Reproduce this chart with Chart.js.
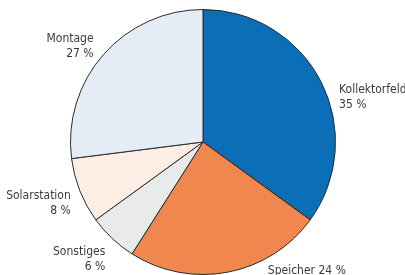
<!DOCTYPE html>
<html>
<head>
<meta charset="utf-8">
<script src="https://cdn.jsdelivr.net/npm/chart.js@4"></script>
<style>
  html, body { margin: 0; padding: 0; background: #fff; overflow: hidden; }
  #wrap { width: 405px; height: 275px; position: relative; }
</style>
</head>
<body>
<div id="wrap"><canvas id="pieChart"></canvas></div>
<script>
// Kostenanteile (clockwise from top)
const categories = ['Kollektorfeld', 'Speicher', 'Sonstiges', 'Solarstation', 'Montage'];
const shares = [35, 24, 6, 8, 27];
const sliceColors = ['#0a6fb6', '#f0874f', '#e9eaea', '#fdeee5', '#e5ecf5'];
// label lines shown next to the slices
const labelLines = [
    ['Kollektorfeld', '35 %'],
    ['Speicher 24 %'],
    ['Sonstiges', '6 %'],
    ['Solarstation', '8 %'],
    ['Montage', '27 %']
];
// nudges relative to the slice's outer edge point: dx, dy, align
const labelPlacement = [
    [18, 8, 'left'],
    [40, -1, 'left'],
    [-7, 13, 'right'],
    [-9, 5, 'right'],
    [-10, -16, 'right']
];

const FONT = '12px "Liberation Sans Narrow", "DejaVu Sans Condensed", "Roboto Condensed", sans-serif';

const sliceLabels = {
    id: 'sliceLabels',
    afterDatasetsDraw(chart) {
        const ctx = chart.ctx;
        const arcs = chart.getDatasetMeta(0).data;
        ctx.save();
        ctx.font = FONT;
        ctx.fillStyle = '#3a3a3a';
        ctx.textBaseline = 'middle';
        arcs.forEach((arc, i) => {
            const mid = (arc.startAngle + arc.endAngle) / 2;
            const ex = arc.x + Math.cos(mid) * arc.outerRadius;
            const ey = arc.y + Math.sin(mid) * arc.outerRadius;
            const p = labelPlacement[i];
            ctx.textAlign = p[2];
            labelLines[i].forEach((line, j) => {
                ctx.fillText(line, ex + p[0], ey + p[1] + j * 15);
            });
        });
        ctx.restore();
    }
};

const ctx = document.getElementById('pieChart').getContext('2d');
new Chart(ctx, {
    type: 'pie',
    data: {
        labels: categories,
        datasets: [{
            data: shares,
            backgroundColor: sliceColors,
            borderColor: '#2a2a2a',
            borderWidth: 1
        }]
    },
    options: {
        responsive: true,
        maintainAspectRatio: false,
        animation: false,
        layout: { padding: { left: 70, right: 69, top: 9, bottom: 0 } },
        plugins: {
            legend: { display: false },
            tooltip: { enabled: false }
        }
    },
    plugins: [sliceLabels]
});
</script>
</body>
</html>
